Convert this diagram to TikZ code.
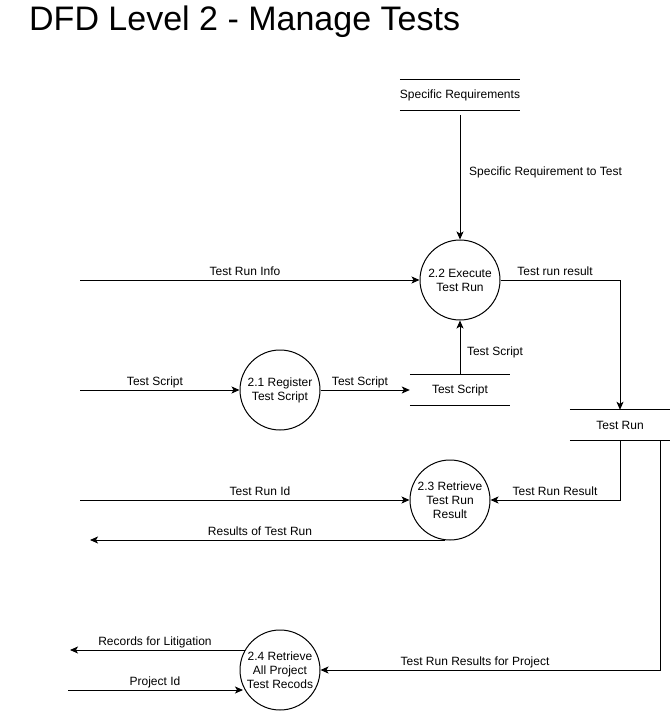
\documentclass[tikz,border=0pt]{standalone}
\usepackage{fontspec}
\setmainfont{Liberation Sans}
\usetikzlibrary{arrows.meta}
\begin{document}
\begin{tikzpicture}[x=1pt,y=-1pt,
  every node/.style={font=\fontsize{12}{14}\selectfont},
  proc/.style={draw,circle,minimum size=80pt,inner sep=0pt,align=center,line width=1pt},
  store/.style={minimum width=100pt,minimum height=30pt,inner sep=0pt},
  lbl/.style={inner sep=0pt,text height=8.6pt,text depth=2.4pt},
  flow/.style={line width=1pt,-{Stealth[length=8pt,width=7pt,inset=2pt]}},
  sline/.style={line width=1pt}]
\useasboundingbox (0,0) rectangle (671,711);
\node[anchor=west,inner sep=0pt,font=\fontsize{34}{38}\selectfont] (title) at (29,22) {DFD Level 2 - Manage Tests};

% stores
\node[store] (sreq) at (460,95) {Specific Requirements};
\draw[sline] (sreq.north west) -- (sreq.north east) (sreq.south west) -- (sreq.south east);
\node[store] (sts) at (460,390) {Test Script};
\draw[sline] (sts.north west) -- (sts.north east) (sts.south west) -- (sts.south east);
\node[store] (strun) at (620,425) {Test Run};
\draw[sline] (strun.north west) -- (strun.north east) (strun.south west) -- (strun.south east);

% processes
\node[proc] (p22) at (460,280) {2.2 Execute\\Test Run};
\node[proc] (p21) at (280,390) {2.1 Register\\Test Script};
\node[proc] (p23) at (450,500) {2.3 Retrieve\\Test Run\\Result};
\node[proc] (p24) at (280,670) {2.4 Retrieve\\All Project\\Test Recods};

% external endpoints
\coordinate (e1) at (80,280);
\coordinate (e2) at (80,390);
\coordinate (e3) at (80,500);
\coordinate (e4) at (90,540);
\coordinate (e5) at (70,650);
\coordinate (e6) at (68,690);
\coordinate (sreqb) at (460,115);
\coordinate (c1) at (620,280);
\coordinate (c2) at (620,500);
\coordinate (c3a) at (660,440);
\coordinate (c3) at (660,670);
\coordinate (p23b) at (445,540);
\coordinate (p24a) at (245,650);
\coordinate (p24b) at (243,690);

% flows
\draw[flow] (sreqb) -- (p22);
\node[lbl,anchor=west] (l1) at (469,172) {Specific Requirement to Test};
\draw[flow] (e1) -- (p22);
\node[lbl] (l2) at (245,272) {Test Run Info};
\draw[flow] (p22.east) -- (c1) -- (strun.north);
\node[lbl] (l3) at (555,272) {Test run result};
\draw[flow] (e2) -- (p21);
\node[lbl] (l4) at (155,382) {Test Script};
\draw[flow] (p21) -- (sts.west);
\node[lbl] (l5) at (360,382) {Test Script};
\draw[flow] (sts.north) -- (p22);
\node[lbl] (l6) at (495,352) {Test Script};
\draw[flow] (e3) -- (p23);
\node[lbl] (l7) at (260,492) {Test Run Id};
\draw[flow] (strun.south) -- (c2) -- (p23.east);
\node[lbl] (l8) at (555,492) {Test Run Result};
\draw[flow] (p23b) -- (e4);
\node[lbl] (l9) at (260,532) {Results of Test Run};
\draw[flow] (p24a) -- (e5);
\node[lbl] (l10) at (155,642) {Records for Litigation};
\draw[flow] (e6) -- (p24b);
\node[lbl] (l11) at (155,682) {Project Id};
\draw[flow] (c3a) -- (c3) -- (p24.east);
\node[lbl] (l12) at (475,662) {Test Run Results for Project};
\end{tikzpicture}
\end{document}
